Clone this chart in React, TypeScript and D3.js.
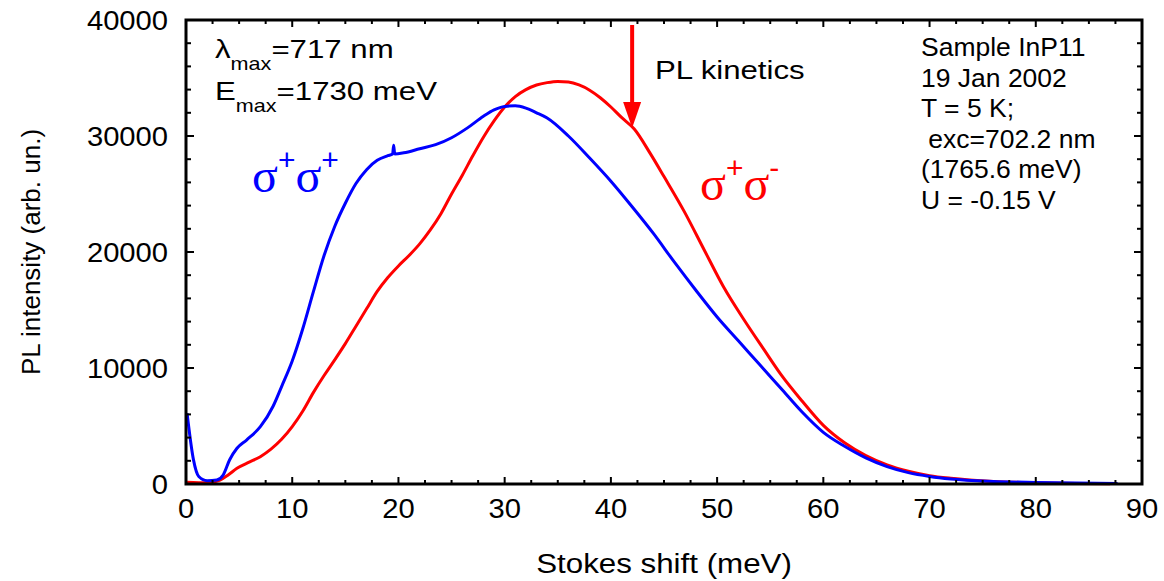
import React, { useEffect, useRef } from 'react';
import * as d3 from 'd3';

// sigma+ sigma+ (co-polarized) spectrum
const sameShift = [0.1, 0.7, 1.2, 2.0, 2.9, 3.5, 4.1, 4.8, 5.7, 7.0, 8.2, 9.0, 10.0, 11.0, 12.0, 13.0, 14.0, 15.0, 16.0, 17.0, 18.0, 19.0, 19.45, 19.55, 19.65, 20.5, 22.0, 23.5, 25.0, 26.5, 28.0, 29.0, 30.0, 31.0, 32.0, 33.0, 34.0, 36.0, 38.0, 40.0, 42.0, 44.0, 46.0, 48.0, 50.0, 52.0, 54.0, 56.0, 58.0, 60.0, 62.0, 64.0, 66.0, 68.0, 70.0, 72.0, 76.0, 80.0, 87.7];
const sameIntensity = [6100, 2100, 650, 290, 350, 780, 2070, 3080, 3790, 4940, 6700, 8400, 10600, 13400, 16600, 19700, 22200, 24200, 25900, 27100, 27900, 28300, 28450, 29200, 28450, 28550, 28900, 29250, 29850, 30700, 31700, 32250, 32550, 32600, 32400, 32000, 31550, 30000, 28100, 26100, 23900, 21600, 19100, 16700, 14400, 12350, 10300, 8250, 6200, 4450, 3250, 2250, 1500, 980, 650, 430, 220, 130, 50];

// sigma+ sigma- (cross-polarized) spectrum
const crossShift = [0.1, 2.0, 3.2, 4.0, 4.8, 6.0, 7.0, 8.0, 9.0, 10.0, 11.0, 12.0, 13.0, 14.0, 15.0, 16.0, 17.0, 18.0, 19.0, 20.0, 21.0, 22.0, 23.0, 24.0, 25.0, 26.0, 27.0, 28.0, 29.0, 30.0, 31.0, 32.0, 33.0, 34.0, 35.0, 36.0, 37.0, 38.0, 39.0, 40.0, 41.0, 42.2, 43.7, 45.0, 46.9, 48.8, 50.6, 52.5, 54.4, 56.0, 58.0, 60.0, 62.0, 64.0, 66.0, 68.0, 70.0, 72.0, 76.0, 80.0, 87.0];
const crossIntensity = [150, 100, 340, 800, 1350, 1900, 2350, 3000, 3850, 4950, 6300, 7900, 9350, 10700, 12100, 13600, 15100, 16600, 17800, 18800, 19700, 20700, 21900, 23300, 25000, 26600, 28300, 29900, 31300, 32500, 33400, 34000, 34400, 34600, 34700, 34650, 34400, 33950, 33300, 32500, 31600, 30600, 28500, 26500, 23500, 20150, 17000, 14200, 11600, 9450, 7150, 5050, 3550, 2450, 1650, 1100, 720, 490, 220, 110, 30];

const xTicks = [0, 10, 20, 30, 40, 50, 60, 70, 80, 90];
const yTicks = [0, 10000, 20000, 30000, 40000];
const infoLines = ['Sample InP11', '19 Jan 2002', 'T = 5 K;', ' exc=702.2 nm', '(1765.6 meV)', 'U = -0.15 V'];
const kineticsShift = 42;

const W = 1164;
const H = 581;
const SANS = '"Liberation Sans", Arial, sans-serif';
const SERIF = '"Liberation Serif", "Times New Roman", serif';

const App = () => {
  const svgRef = useRef(null);

  useEffect(() => {
    const svg = d3.select(svgRef.current);
    svg.selectAll('*').remove();

    const m = { left: 186, right: 1142, top: 20, bottom: 484 };
    const x = d3.scaleLinear().domain([0, 90]).range([m.left, m.right]);
    const y = d3.scaleLinear().domain([0, 40000]).range([m.bottom, m.top]);

    // the original lettering is a bit wider than Liberation Sans, hence the x-stretch
    const txt = (g, px, py, s, size, sx, anchor = 'start') =>
      g.append('text')
        .attr('transform', `translate(${px},${py}) scale(${sx},1)`)
        .attr('font-family', SANS)
        .attr('font-size', size)
        .attr('text-anchor', anchor)
        .attr('fill', '#000')
        .text(s);

    // curves
    const line = d3.line().x(d => x(d[0])).y(d => y(d[1])).curve(d3.curveMonotoneX);
    const same = sameShift.map((v, i) => [v, sameIntensity[i]]);
    const cross = crossShift.map((v, i) => [v, crossIntensity[i]]);

    svg.append('path').attr('d', line(cross)).attr('fill', 'none')
      .attr('stroke', '#ff0000').attr('stroke-width', 3).attr('stroke-linejoin', 'round');
    svg.append('path').attr('d', line(same)).attr('fill', 'none')
      .attr('stroke', '#0000ff').attr('stroke-width', 3).attr('stroke-linejoin', 'round');

    // frame
    svg.append('rect')
      .attr('x', m.left).attr('y', m.top)
      .attr('width', m.right - m.left).attr('height', m.bottom - m.top)
      .attr('fill', 'none').attr('stroke', '#000').attr('stroke-width', 3);

    // ticks, all inward on four sides
    const xMinor = d3.range(0, 90.01, 2.5);
    const yMinor = d3.range(0, 40001, 2000);
    const ticks = svg.append('g').attr('stroke', '#000').attr('stroke-width', 2);
    xMinor.forEach(v => {
      const len = v % 10 === 0 ? 7 : 4;
      ticks.append('line').attr('x1', x(v)).attr('x2', x(v)).attr('y1', m.bottom).attr('y2', m.bottom - len);
      ticks.append('line').attr('x1', x(v)).attr('x2', x(v)).attr('y1', m.top).attr('y2', m.top + len);
    });
    yMinor.forEach(v => {
      const len = v % 10000 === 0 ? 8 : 5;
      ticks.append('line').attr('y1', y(v)).attr('y2', y(v)).attr('x1', m.left).attr('x2', m.left + len);
      ticks.append('line').attr('y1', y(v)).attr('y2', y(v)).attr('x1', m.right).attr('x2', m.right - len);
    });

    // tick labels
    xTicks.forEach(v => txt(svg, x(v), m.bottom + 34, String(v), 27, 1.08, 'middle'));
    yTicks.forEach(v => txt(svg, m.left - 18, y(v) + 9.5, String(v), 27, 1.08, 'end'));

    // axis titles
    txt(svg, (m.left + m.right) / 2, 573, 'Stokes shift (meV)', 27, 1.16, 'middle');
    svg.append('text')
      .attr('transform', `translate(40,${(m.top + m.bottom) / 2}) rotate(-90)`)
      .attr('font-family', SANS).attr('font-size', 26).attr('text-anchor', 'middle')
      .text('PL intensity (arb. un.)');

    // lambda / E max
    const maxLabel = (py, head, rest) => {
      const t = svg.append('text').attr('font-family', SANS).attr('font-size', 26)
        .attr('transform', `translate(215,${py}) scale(1.2,1)`);
      t.append('tspan').text(head);
      t.append('tspan').attr('font-size', 18).attr('dy', 12).text('max');
      t.append('tspan').attr('dy', -12).text(rest);
    };
    maxLabel(58, 'λ', '=717 nm');
    maxLabel(100, 'E', '=1730 meV');

    // sample info block
    infoLines.forEach((s, i) => txt(svg, 921, 56 + i * 30.5, s, 25, 1.06).attr('xml:space', 'preserve'));

    // PL kinetics arrow
    txt(svg, 655, 79, 'PL kinetics', 26, 1.2);
    const ax = x(kineticsShift);
    svg.append('line').attr('x1', ax).attr('x2', ax).attr('y1', 25).attr('y2', 108)
      .attr('stroke', '#ff0000').attr('stroke-width', 4);
    svg.append('path')
      .attr('d', `M${ax - 9},102 L${ax + 9},102 L${ax},128 Z`)
      .attr('fill', '#ff0000');

    // polarization labels
    const pol = (px, py, color, second) => {
      const t = svg.append('text').attr('fill', color)
        .attr('transform', `translate(${px},${py})`);
      t.append('tspan').attr('font-family', SERIF).attr('font-size', 48).text('σ');
      t.append('tspan').attr('font-family', SANS).attr('font-size', 30).attr('dy', -22).text('+');
      t.append('tspan').attr('font-family', SERIF).attr('font-size', 48).attr('dy', 22).text('σ');
      t.append('tspan').attr('font-family', SANS).attr('font-size', 30).attr('dy', -22).text(second);
    };
    pol(252, 192, '#0000ff', '+');
    pol(700, 200, '#ff0000', '-');
  }, []);

  return <svg ref={svgRef} width={W} height={H} style={{ display: 'block', position: 'absolute', left: 0, top: 0 }}></svg>;
};

export default App;
